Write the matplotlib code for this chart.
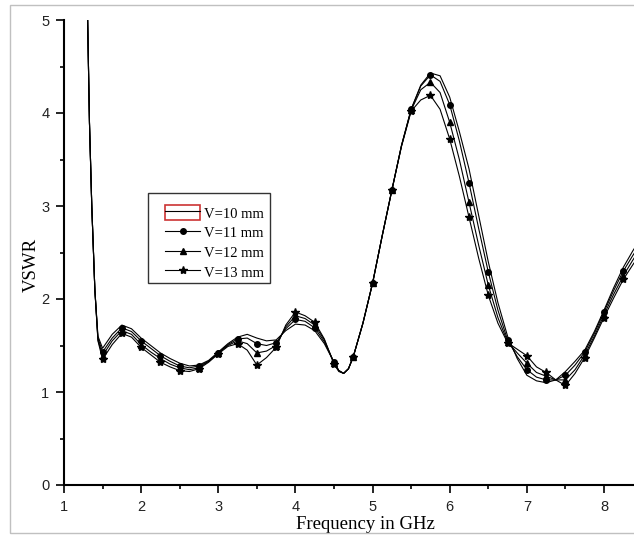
import numpy as np
import matplotlib
matplotlib.use("Agg")
import matplotlib.pyplot as plt
from matplotlib.lines import Line2D
from matplotlib.patches import Patch, Rectangle
from matplotlib.ticker import MultipleLocator

# frequency points (GHz) and VSWR for each V
freq = [1.30, 1.33, 1.36, 1.40, 1.44,
        1.50, 1.625, 1.75, 1.875, 2.0, 2.125, 2.25, 2.375, 2.5, 2.625,
        2.75, 2.875, 3.0, 3.125, 3.25, 3.375, 3.5, 3.625, 3.75, 3.875,
        4.0, 4.125, 4.25, 4.375, 4.5, 4.5625, 4.625, 4.6875, 4.75, 4.875,
        5.0, 5.125,
        5.25, 5.375, 5.5, 5.625, 5.75, 5.875, 6.0, 6.125, 6.25, 6.375,
        6.5, 6.625, 6.75, 6.875, 7.0, 7.125, 7.25, 7.375, 7.5, 7.625,
        7.75, 7.875, 8.0, 8.125, 8.25, 8.375, 8.5]

vswr_10 = [5.30, 3.90, 3.00, 2.10, 1.60,
           1.47, 1.62, 1.72, 1.68, 1.58, 1.50, 1.42, 1.36, 1.31, 1.28,
           1.29, 1.34, 1.43, 1.52, 1.59, 1.62, 1.58, 1.55, 1.56, 1.66,
           1.73, 1.72, 1.66, 1.52, 1.32, 1.23, 1.20, 1.25, 1.38, 1.74,
           2.17, 2.68,
           3.17, 3.65, 4.04, 4.30, 4.43, 4.40, 4.17, 3.80, 3.40, 2.90,
           2.40, 1.96, 1.60, 1.36, 1.18, 1.12, 1.10, 1.13, 1.22, 1.33,
           1.45, 1.65, 1.88, 2.12, 2.34, 2.52, 2.68]

vswr_11 = [5.30, 3.90, 3.00, 2.10, 1.58,
           1.43, 1.58, 1.69, 1.65, 1.55, 1.47, 1.39, 1.33, 1.28, 1.26,
           1.28, 1.33, 1.42, 1.51, 1.57, 1.58, 1.52, 1.50, 1.53, 1.68,
           1.78, 1.76, 1.69, 1.54, 1.32, 1.23, 1.20, 1.25, 1.38, 1.74,
           2.17, 2.68,
           3.17, 3.65, 4.04, 4.29, 4.41, 4.34, 4.09, 3.70, 3.25, 2.76,
           2.29, 1.88, 1.56, 1.38, 1.24, 1.16, 1.13, 1.13, 1.18, 1.29,
           1.43, 1.63, 1.86, 2.09, 2.30, 2.47, 2.63]

vswr_12 = [5.30, 3.90, 3.00, 2.10, 1.56,
           1.39, 1.55, 1.66, 1.62, 1.51, 1.43, 1.36, 1.30, 1.26, 1.24,
           1.26, 1.33, 1.42, 1.50, 1.55, 1.52, 1.42, 1.44, 1.50, 1.70,
           1.82, 1.79, 1.72, 1.56, 1.31, 1.23, 1.20, 1.25, 1.38, 1.74,
           2.17, 2.68,
           3.17, 3.65, 4.03, 4.25, 4.33, 4.22, 3.90, 3.50, 3.04, 2.58,
           2.15, 1.80, 1.54, 1.42, 1.31, 1.21, 1.17, 1.13, 1.13, 1.24,
           1.40, 1.60, 1.83, 2.05, 2.25, 2.42, 2.58]

vswr_13 = [5.30, 3.90, 3.00, 2.10, 1.55,
           1.35, 1.51, 1.63, 1.59, 1.48, 1.40, 1.32, 1.27, 1.23, 1.22,
           1.25, 1.32, 1.41, 1.49, 1.52, 1.45, 1.29, 1.37, 1.48, 1.72,
           1.86, 1.82, 1.75, 1.57, 1.30, 1.22, 1.20, 1.25, 1.38, 1.74,
           2.17, 2.68,
           3.17, 3.64, 4.02, 4.14, 4.19, 4.04, 3.72, 3.32, 2.88, 2.44,
           2.04, 1.74, 1.53, 1.46, 1.39, 1.27, 1.21, 1.13, 1.07, 1.20,
           1.37, 1.58, 1.80, 2.01, 2.21, 2.37, 2.52]

labels = ["V=10 mm", "V=11 mm", "V=12 mm", "V=13 mm"]
markers = [None, "o", "^", "*"]

serif = ["Liberation Serif", "DejaVu Serif"]
sans = ["Liberation Sans", "DejaVu Sans"]

fig = plt.figure(figsize=(6.34, 5.36), dpi=100)
ax = fig.add_axes([64 / 634, 51 / 536, 570 / 634, 465 / 536])

f = np.array(freq)
# markers sit on every 0.25 GHz from 1.5 GHz on
mark = np.where((np.abs(f * 4 - np.round(f * 4)) < 1e-6) & (f >= 1.5))[0].tolist()


def msize(m):
    return 6 if m == "*" else 4


for vals, m in zip([vswr_10, vswr_11, vswr_12, vswr_13], markers):
    ax.plot(f, vals, color="black", lw=0.8, marker=m, markersize=msize(m),
            markevery=mark, markerfacecolor="black", markeredgecolor="black",
            clip_on=True)

ax.set_xlim(1, 1 + 570 / (540 / 7))
ax.set_ylim(0, 5)
ax.xaxis.set_major_locator(MultipleLocator(1))
ax.xaxis.set_minor_locator(MultipleLocator(0.5))
ax.yaxis.set_major_locator(MultipleLocator(1))
ax.yaxis.set_minor_locator(MultipleLocator(0.5))

for s in ["top", "right"]:
    ax.spines[s].set_visible(False)
for s in ["left", "bottom"]:
    ax.spines[s].set_linewidth(1.5)

ax.tick_params(which="major", direction="out", length=5.5, width=1.2,
               labelsize=10.5, labelcolor="#222222", pad=5)
ax.tick_params(which="minor", direction="out", length=3, width=1.2)
for lab in ax.get_xticklabels() + ax.get_yticklabels():
    lab.set_family(sans)

ax.set_xlabel("Frequency in GHz", family=serif, fontsize=13.5)
ax.xaxis.set_label_coords((365 - 64) / 570, -0.066)
ax.set_ylabel("VSWR", family=serif, fontsize=13.5)
ax.yaxis.set_label_coords(-0.042, 0.473)

# legend
handles = [(Patch(facecolor="white", edgecolor="#cc3333", lw=1.2),
            Line2D([], [], color="black", lw=0.8))]
for m in markers[1:]:
    handles.append(Line2D([], [], color="black", lw=0.8, marker=m,
                          markersize=msize(m), markerfacecolor="black"))
ax.legend(handles, labels, loc="upper left",
          bbox_to_anchor=((165 - 64) / 570, (485 - 205) / 465),
          frameon=False, borderpad=0, borderaxespad=0,
          handlelength=2.4, handleheight=1.25, handletextpad=0.3,
          labelspacing=0.28, prop={"family": serif, "size": 10.5})
ax.add_patch(Rectangle(((148 - 64) / 570, (485 - 283) / 465),
                       122 / 570, 90 / 465, transform=ax.transAxes,
                       fill=False, edgecolor="#333333", lw=1.0,
                       clip_on=False, zorder=5))

# outer frame around the figure
fig.patches.append(Rectangle((10 / 634, 3 / 536), 1.0, 528 / 536,
                             transform=fig.transFigure, fill=False,
                             edgecolor="#c0c0c0", lw=1.0))

fig.savefig("out.png", dpi=100)
